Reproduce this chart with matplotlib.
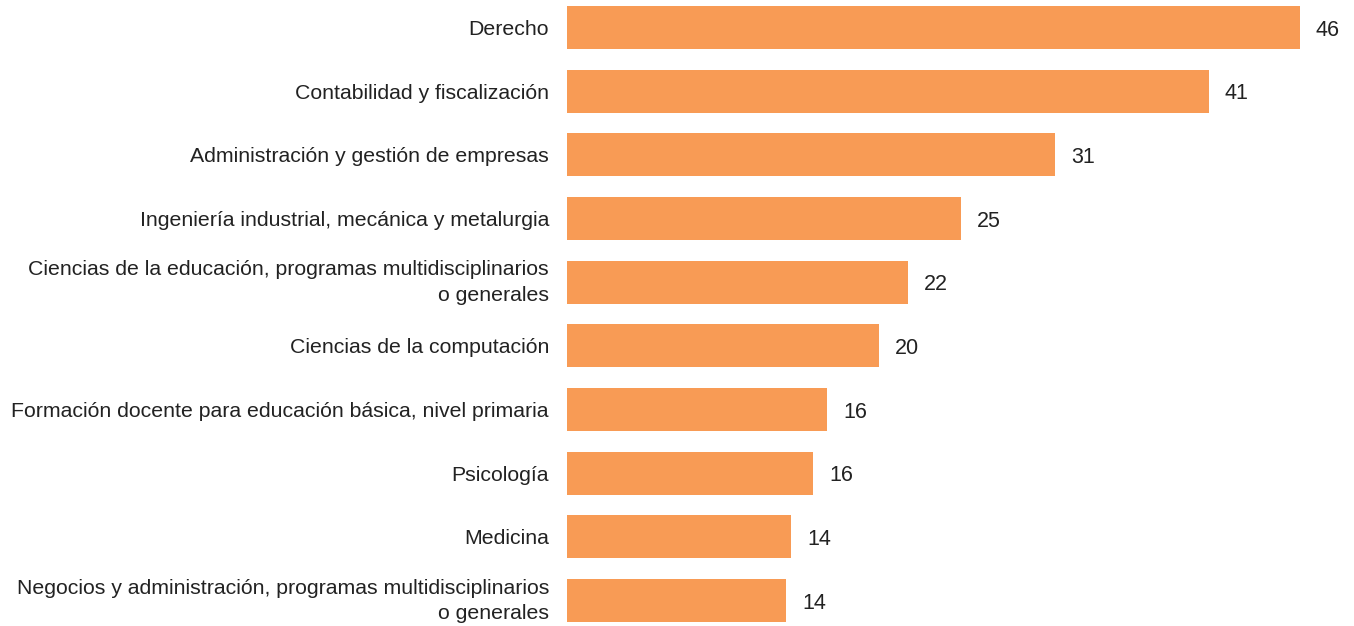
import matplotlib
matplotlib.use("Agg")
import matplotlib.pyplot as plt
import matplotlib.transforms as mtransforms

categories = [
    "Derecho",
    "Contabilidad y fiscalización",
    "Administración y gestión de empresas",
    "Ingeniería industrial, mecánica y metalurgia",
    "Ciencias de la educación, programas multidisciplinarios\no generales",
    "Ciencias de la computación",
    "Formación docente para educación básica, nivel primaria",
    "Psicología",
    "Medicina",
    "Negocios y administración, programas multidisciplinarios\no generales",
]
values = [45.8, 40.1, 30.5, 24.6, 21.3, 19.5, 16.25, 15.4, 14.0, 13.7]
value_labels = ["46", "41", "31", "25", "22", "20", "16", "16", "14", "14"]

plt.rcParams['font.family'] = ['Liberation Sans', 'DejaVu Sans']

W, H = 1354, 626
fig = plt.figure(figsize=(W / 100, H / 100), dpi=100)
ax = fig.add_axes([567 / W, 0, 1 - 567 / W, 1])

pos = list(range(len(categories)))
ax.barh(pos, values, height=0.675, color="#F89B55", edgecolor="none")
ax.set_xlim(0, 787 / 16)
ax.set_ylim(9.40, -0.432)

for p, v, lab in zip(pos, values, value_labels):
    ax.annotate(lab, (v, p), xytext=(11.5, 0), textcoords="offset points",
                ha="left", va="center_baseline", fontsize=15.5, color="#222222")

ax.set_yticks(pos)
ax.set_yticklabels(categories, fontsize=15.3, color="#222222", linespacing=1.45)
ax.tick_params(axis="y", length=0, pad=13)
ax.set_xticks([])
for s in ax.spines.values():
    s.set_visible(False)

shift = mtransforms.ScaledTranslation(0, 5 / 100, fig.dpi_scale_trans)
for t in ax.get_yticklabels():
    if "\n" in t.get_text():
        t.set_transform(t.get_transform() + shift)

fig.savefig("out.png", dpi=100)
